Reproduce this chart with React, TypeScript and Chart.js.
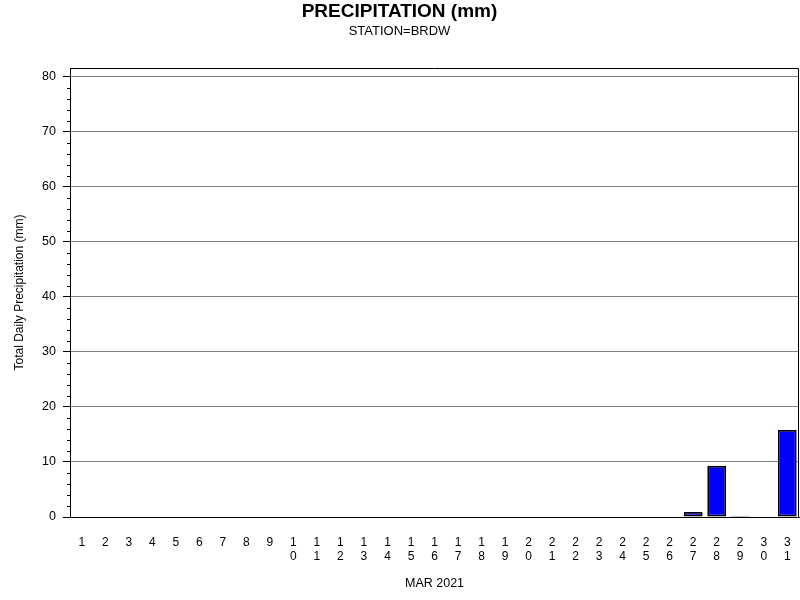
import React, { useEffect, useRef } from "react";
import { Chart, registerables } from "chart.js";

Chart.register(...registerables);

const days: string[] = Array.from({ length: 31 }, (_, i) => String(i + 1));
const precip: number[] = [
  0, 0, 0, 0, 0, 0, 0, 0, 0, 0,
  0, 0, 0, 0, 0, 0, 0, 0, 0, 0,
  0, 0, 0, 0, 0, 0, 0.9, 9.3, 0.2, 0, 15.8,
];
const yMajorTicks: number[] = [0, 10, 20, 30, 40, 50, 60, 70, 80];
const yMinorTicks: number[] = [2, 4, 6, 8, 12, 14, 16, 18, 22, 24, 26, 28, 32, 34, 36, 38, 42, 44, 46, 48, 52, 54, 56, 58, 62, 64, 66, 68, 72, 74, 76, 78];

const FONT = "'Liberation Sans', Arial, sans-serif";

const framePlugin = {
  id: "frame",
  afterDraw(chart: any) {
    const { ctx, chartArea } = chart;
    const y = chart.scales.y;
    ctx.save();
    ctx.strokeStyle = "#000";
    ctx.lineWidth = 1;
    ctx.beginPath();
    ctx.rect(chartArea.left + 0.5, chartArea.top + 0.5, chartArea.right - chartArea.left - 1, chartArea.bottom - chartArea.top);
    ctx.stroke();
    ctx.beginPath();
    for (const v of yMinorTicks) {
      const py = Math.round(y.getPixelForValue(v)) + 0.5;
      ctx.moveTo(chartArea.left - 3, py);
      ctx.lineTo(chartArea.left, py);
    }
    ctx.stroke();
    ctx.restore();
  },
};

export default function App() {
  const ref = useRef<HTMLCanvasElement | null>(null);
  useEffect(() => {
    if (!ref.current) return;
    const chart = new Chart(ref.current, {
      type: "bar",
      data: {
        labels: days.map((d) => d.split("")),
        datasets: [
          {
            data: precip,
            backgroundColor: "#0000ff",
            borderColor: "#000000",
            borderWidth: (c: any) => (c.raw > 0 ? 1.8 : 0),
            borderSkipped: false,
            categoryPercentage: 1,
            barPercentage: 0.8,
            minBarLength: 0,
          },
        ],
      },
      options: {
        animation: false,
        responsive: false,
        devicePixelRatio: 1,
        layout: { padding: { left: 0, right: 1, top: 0, bottom: 0 } },
        plugins: {
          legend: { display: false },
          tooltip: { enabled: false },
          title: {
            display: true,
            text: "PRECIPITATION (mm)",
            color: "#000",
            font: { family: FONT, size: 19, weight: "bold" },
            padding: { top: 0, bottom: 0 },
          },
          subtitle: {
            display: true,
            text: "STATION=BRDW",
            color: "#000",
            font: { family: FONT, size: 13 },
            padding: { top: 1, bottom: 28.6 },
          },
        },
        scales: {
          x: {
            grid: { display: false, drawTicks: true, tickLength: 15 },
            border: { display: true, color: "#000", width: 1 },
            ticks: {
              color: "#000",
              font: { family: FONT, size: 12 },
              padding: 3,
              maxRotation: 0,
              autoSkip: false,
            },
            title: {
              display: true,
              text: "MAR 2021",
              color: "#000",
              font: { family: FONT, size: 12.5 },
              padding: { top: 10, bottom: 9 },
            },
            afterFit: (s: any) => {
              s.height = 83;
            },
          },
          y: {
            min: 0,
            max: 81.6,
            afterBuildTicks: (s: any) => {
              s.ticks = yMajorTicks.map((v) => ({ value: v }));
            },
            grid: { color: "#808080", tickColor: "#000", tickLength: 7, lineWidth: 1 },
            border: { display: true, color: "#000", width: 1 },
            ticks: {
              color: "#000",
              font: { family: FONT, size: 12.5 },
              padding: 7,
            },
            title: {
              display: true,
              text: "Total Daily Precipitation (mm)",
              color: "#000",
              font: { family: FONT, size: 12 },
              padding: { top: 12, bottom: 0 },
            },
            afterFit: (s: any) => {
              s.width = 70;
            },
          },
        },
      },
      plugins: [framePlugin],
    } as any);
    return () => chart.destroy();
  }, []);
  return (
    <div style={{ position: "fixed", left: 0, top: 0, width: 800, height: 600, background: "#fff" }}>
      <canvas ref={ref} width={800} height={600} style={{ width: 800, height: 600 }} />
    </div>
  );
}
